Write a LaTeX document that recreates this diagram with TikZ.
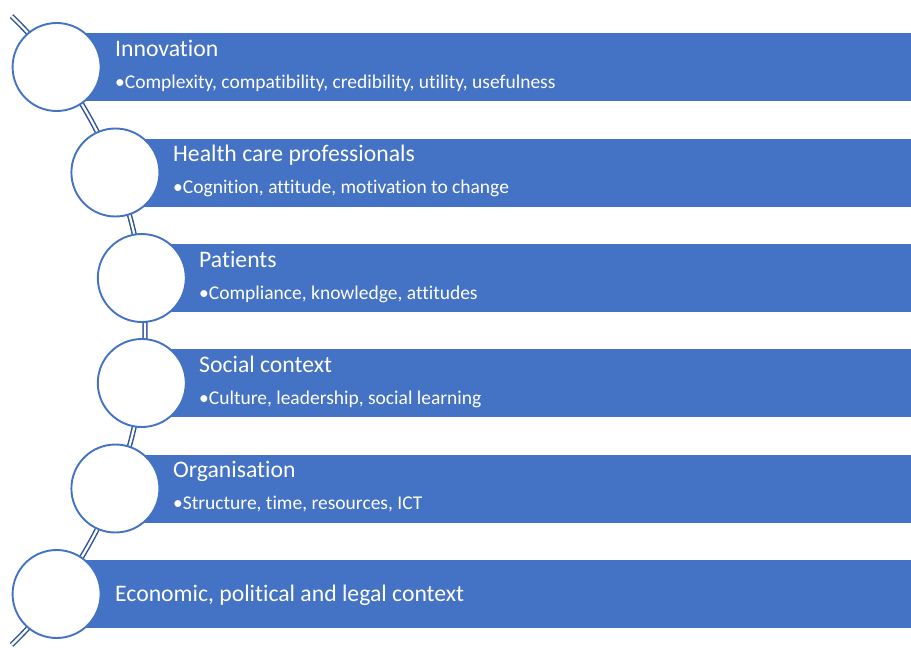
\documentclass[tikz,border=0pt]{standalone}
\usepackage{fontspec}
\setmainfont[Ligatures={NoCommon}]{Carlito}
\definecolor{barblue}{HTML}{4472C4}
\definecolor{arcblue}{HTML}{2F5597}
\begin{document}
\begin{tikzpicture}[x=1pt,y=-1pt, line join=round,
	bar/.style={fill=barblue},
	disc/.style={circle,draw=barblue,fill=white,line width=1.9pt,minimum size=88pt,inner sep=0pt},
	head/.style={anchor=base west,inner sep=0pt,text=white,font=\fontsize{23.7}{28}\selectfont},
	item/.style={anchor=base west,inner sep=0pt,text=white,font=\fontsize{19.5}{23}\selectfont}]
	\useasboundingbox (0,0) rectangle (911,648);
	% spine
	\draw[arcblue,line width=1.5pt,double=white,double distance=2.2pt,line cap=butt] (-292,330.5) ++(-46:437) arc (-46:46:437);
	% bars
	\fill[bar] (56.6,33) rectangle (911,101);
	\fill[bar] (115.4,138.5) rectangle (911,206.5);
	\fill[bar] (141.8,244) rectangle (911,312);
	\fill[bar] (141.8,349) rectangle (911,417);
	\fill[bar] (115.4,454.5) rectangle (911,522.5);
	\fill[bar] (56.6,560) rectangle (911,628);
	% circles
	\node[disc] (c1) at (56.6,67) {};
	\node[disc] (c2) at (115.4,172.5) {};
	\node[disc] (c3) at (141.8,278) {};
	\node[disc] (c4) at (141.8,383) {};
	\node[disc] (c5) at (115.4,488.5) {};
	\node[disc] (c6) at (56.6,594) {};
	% texts
	\node[head] (t1) at (115,56) {Innovation};
	\node[item] (b1) at (115,88) {•Complexity, compatibility, credibility, utility, usefulness};
	\node[head] (t2) at (173,161.5) {Health care professionals};
	\node[item] (b2) at (173,193.5) {•Cognition, attitude, motivation to change};
	\node[head] (t3) at (199,267) {Patients};
	\node[item] (b3) at (199,299) {•Compliance, knowledge, attitudes};
	\node[head] (t4) at (199,372) {Social context};
	\node[item] (b4) at (199,404) {•Culture, leadership, social learning};
	\node[head] (t5) at (173,477.5) {Organisation};
	\node[item] (b5) at (173,509.5) {•Structure, time, resources, ICT};
	\node[head] (t6) at (115,601) {Economic, political and legal context};
\end{tikzpicture}
\end{document}
